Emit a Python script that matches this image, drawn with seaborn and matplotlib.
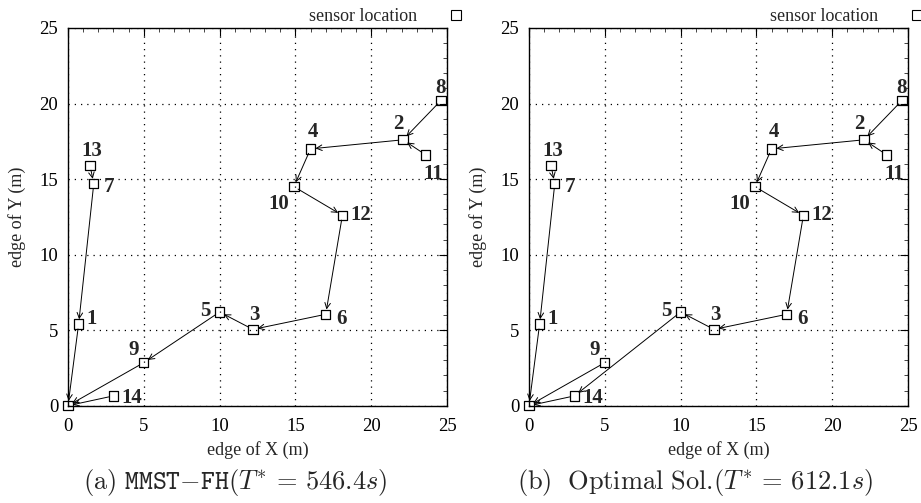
import matplotlib
matplotlib.use("Agg")
import matplotlib.pyplot as plt
import seaborn as sns
import pandas as pd
from matplotlib.ticker import MultipleLocator

# ---------------- data ----------------
node_ids = [0, 1, 2, 3, 4, 5, 6, 7, 8, 9, 10, 11, 12, 13, 14]
node_x = [0.0, 0.7, 22.1, 12.2, 16.0, 10.0, 17.0, 1.7, 24.6, 5.0, 14.9, 23.6, 18.1, 1.45, 3.0]
node_y = [0.0, 5.4, 17.6, 5.05, 17.0, 6.2, 6.05, 14.7, 20.2, 2.85, 14.5, 16.6, 12.6, 15.9, 0.65]

edges_a = [(13, 7), (7, 1), (1, 0), (8, 2), (11, 2), (2, 4), (4, 10), (10, 12),
           (12, 6), (6, 3), (3, 5), (5, 9), (9, 0), (14, 0)]
edges_b = [(13, 7), (7, 1), (1, 0), (8, 2), (11, 2), (2, 4), (4, 10), (10, 12),
           (12, 6), (6, 3), (3, 5), (5, 14), (9, 0), (14, 0)]

captions = [r"$\mathrm{(a)\ }\mathtt{MMST{-}FH}\mathrm{(}T^{*}\,=\,546.4s\mathrm{)}$",
            r"$\mathrm{(b)\ \ Optimal\ Sol.}\!\mathrm{(}T^{*}\,=\,612.1s\mathrm{)}$"]
x_label = "edge of X (m)"
y_label = "edge of Y (m)"
legend_label = "sensor location"
ticks = [0, 5, 10, 15, 20, 25]

# label offsets (pixels, right / down) -- styling only
label_off = {1: (13, -5), 2: (-5, -16), 3: (1, -14), 4: (2, -17), 5: (-14, -1),
             6: (16, 5), 7: (15, 3), 8: (0, -13), 9: (-10, -13), 10: (-15, 17),
             11: (7, 19), 12: (18, 0), 13: (2, -14), 14: (18, 2)}

df = pd.DataFrame({"id": node_ids, "x": node_x, "y": node_y, "kind": legend_label})

sns.set_style("white")
plt.rcParams["font.family"] = ["Liberation Serif", "DejaVu Serif"]
plt.rcParams["mathtext.fontset"] = "cm"

fig = plt.figure(figsize=(9.21, 5.03), dpi=100)
W, H = 921, 503
ax_boxes = [(68, 28, 447, 405.7), (529, 28, 908, 405.7)]
cap_x = [235, 695]

for k, (box, edges, cap) in enumerate(zip(ax_boxes, [edges_a, edges_b], captions)):
    x0, y0, x1, y1 = box
    ax = fig.add_axes([x0 / W, 1 - y1 / H, (x1 - x0) / W, (y1 - y0) / H])
    ax.set_xlim(0, 25)
    ax.set_ylim(0, 25)
    ax.set_xticks(ticks)
    ax.set_yticks(ticks)
    ax.xaxis.set_minor_locator(MultipleLocator(1))
    ax.yaxis.set_minor_locator(MultipleLocator(1))
    ax.tick_params(which="major", direction="in", length=6, width=0.8,
                   top=True, right=True, labelsize=13.5, colors="black")
    ax.tick_params(axis="x", which="major", pad=9)
    ax.tick_params(axis="y", which="major", pad=7)
    ax.tick_params(which="minor", direction="in", length=3, width=0.6,
                   top=True, right=True)
    ax.grid(True, which="major", linestyle=(0, (1, 4)), color="black", linewidth=0.9)
    for s in ax.spines.values():
        s.set_color("black")
        s.set_linewidth(1.0)

    # arrows
    for a, b in edges:
        ax.annotate("", xy=(node_x[b], node_y[b]), xytext=(node_x[a], node_y[a]),
                    arrowprops=dict(arrowstyle="->", color="black", lw=0.7,
                                    shrinkA=3.5, shrinkB=3.5,
                                    mutation_scale=10),
                    annotation_clip=False, zorder=3)

    sns.scatterplot(data=df, x="x", y="y", hue="kind", palette=["black"],
                    marker="s", s=45, facecolor="none", edgecolor="black",
                    linewidth=0.9, ax=ax, clip_on=False, zorder=4, legend=False)
    for coll in ax.collections:
        coll.set_facecolor("none")
        coll.set_edgecolor("black")

    for i, xv, yv in zip(node_ids, node_x, node_y):
        if i == 0:
            continue
        dx, dy = label_off[i]
        ax.annotate(str(i), xy=(xv, yv), xytext=(dx, -dy), textcoords="offset pixels",
                    ha="center", va="center", fontsize=15, fontweight="bold",
                    annotation_clip=False, zorder=5)

    ax.set_xlabel(x_label, fontsize=13, labelpad=4)
    ax.set_ylabel(y_label, fontsize=13, labelpad=10)

    # legend
    h = plt.Line2D([], [], marker="s", linestyle="none", markersize=6.5,
                   markerfacecolor="none", markeredgecolor="black", markeredgewidth=0.8)
    ax.legend([h], [legend_label], loc="lower right", bbox_to_anchor=(1.047, 1.003),
              frameon=False, markerfirst=False, fontsize=13, handletextpad=1.75,
              handlelength=0.8, borderaxespad=0, borderpad=0.1)

    fig.text(cap_x[k] / W, 1 - 482 / H, cap, ha="center", va="center", fontsize=19)

fig.savefig("out.png", dpi=100)
